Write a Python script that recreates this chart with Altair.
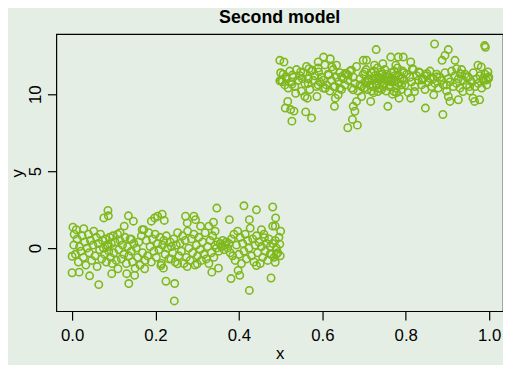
import altair as alt
import pandas as pd

# ---- left cluster (x < 0.5) ----
left_x = [0.002, 0.0, 0.0, 0.01, 0.005, 0.017, 0.028, 0.042, 0.064, 0.076, 0.086, 0.087, 0.095, 0.11,
          0.135, 0.136, 0.125, 0.115, 0.147, 0.131, 0.15, 0.142, 0.168, 0.174, 0.19, 0.198, 0.205, 0.216,
          0.221, 0.213, 0.219, 0.225, 0.246, 0.245, 0.237, 0.253, 0.272, 0.292, 0.296, 0.276, 0.276, 0.3,
          0.308, 0.328, 0.335, 0.339, 0.347, 0.351, 0.343, 0.377, 0.381, 0.398, 0.402, 0.412, 0.425, 0.425,
          0.442, 0.454, 0.442, 0.461, 0.477, 0.481, 0.488, 0.487, 0.481, 0.5, 0.498, 0.487, 0.49, 0.475,
          0.004, 0.008, 0.012, 0.015, 0.018, 0.021, 0.024, 0.027, 0.03, 0.033, 0.036, 0.039, 0.041, 0.044,
          0.047, 0.05, 0.052, 0.055, 0.058, 0.06, 0.063, 0.066, 0.068, 0.071, 0.073, 0.075, 0.078, 0.08,
          0.082, 0.084, 0.086, 0.088, 0.09, 0.092, 0.094, 0.096, 0.098, 0.1, 0.103, 0.106, 0.109, 0.112,
          0.115, 0.118, 0.121, 0.124, 0.127, 0.13, 0.133, 0.136, 0.139, 0.142, 0.145, 0.148, 0.151, 0.154,
          0.157, 0.16, 0.163, 0.166, 0.169, 0.172, 0.175, 0.178, 0.181, 0.184, 0.187, 0.19, 0.193, 0.196,
          0.199, 0.202, 0.205, 0.208, 0.211, 0.214, 0.217, 0.22, 0.223, 0.226, 0.229, 0.232, 0.235, 0.238,
          0.241, 0.244, 0.247, 0.25, 0.253, 0.256, 0.259, 0.262, 0.265, 0.268, 0.271, 0.274, 0.277, 0.28,
          0.283, 0.286, 0.289, 0.292, 0.295, 0.298, 0.301, 0.304, 0.307, 0.31, 0.313, 0.316, 0.319, 0.322,
          0.325, 0.328, 0.331, 0.334, 0.337, 0.34, 0.343, 0.346, 0.349, 0.352, 0.355, 0.358, 0.361, 0.364,
          0.367, 0.37, 0.373, 0.376, 0.379, 0.382, 0.385, 0.388, 0.391, 0.394, 0.397, 0.4, 0.403, 0.406,
          0.409, 0.412, 0.415, 0.418, 0.421, 0.424, 0.427, 0.43, 0.433, 0.436, 0.439, 0.442, 0.445, 0.448,
          0.451, 0.454, 0.457, 0.46, 0.463, 0.466, 0.469, 0.472, 0.475, 0.478, 0.481, 0.484, 0.487, 0.49,
          0.493, 0.496, 0.499]
left_y = [1.36, -0.53, -1.6, 1.2, 0.9, -1.56, 1.26, -1.8, -2.37, 1.96, 2.45, 2.1, -1.66, -1.34,
          2.1, -2.3, 1.43, 1.0, 1.75, -1.66, -1.77, 0.58, 1.2, -1.34, 1.75, 1.96, 2.07, 2.2,
          1.8, -1.13, -1.3, -2.15, -2.3, -3.43, -0.7, -1.02, 2.07, 2.07, 1.85, 1.64, -1.2, -1.02,
          1.43, 1.43, -1.56, 1.68, 2.6, -1.3, 1.1, 1.85, -1.98, -1.45, -1.77, 2.75, 1.85, -2.75,
          2.49, 1.2, -1.13, 0.68, -1.94, 2.67, 1.96, 1.43, 1.43, 1.1, 0.26, -0.92, -0.38, -0.38,
          0.2, -0.4, 0.6, -0.9, 0.1, -0.2, 0.8, -0.6, 0.4, -1.1, 0.0, 0.9, -0.3, 0.5,
          -0.8, 0.2, 1.1, -0.5, 0.7, -1.2, 0.3, -0.1, 0.9, -0.7, 0.5, 0.0, -0.4, 0.6,
          -0.9, 0.2, 0.1, -0.2, 0.7, -0.6, 0.3, -1.0, 0.8, -0.3, 0.4, -0.8, 0.9, -0.1,
          0.5, -0.7, 0.2, -0.4, 0.7, -1.0, 0.1, -0.5, 0.6, -0.2, -0.9, 0.3, -1.3, 0.0,
          -0.6, 0.4, -1.1, 0.8, -0.3, 1.2, -0.8, 0.5, -0.5, 1.0, 0.1, -0.9, 0.6, -0.2,
          0.9, -0.6, 0.3, -0.1, 0.7, -1.0, 0.2, 0.5, -0.4, 0.8, 0.0, -0.7, 0.4, 0.1,
          -0.3, 0.6, -0.9, 0.2, 1.0, -0.5, 0.3, -0.2, 0.8, -1.0, 0.5, -0.6, 1.1, 0.0,
          -0.8, 0.6, -0.3, 0.9, -1.1, 0.2, -0.5, 0.7, -0.1, -0.8, 0.4, -0.4, 1.0, -0.7,
          0.1, -1.0, 0.5, -0.3, 0.8, -0.6, 0.2, 0.0, 0.4, -0.2, 0.3, 0.1, 0.5, -0.1,
          0.2, 0.4, 0.0, 0.3, -0.3, 0.6, -0.5, 0.9, -0.8, 0.2, 1.1, -0.4, 0.7, -1.0,
          0.3, -0.2, 0.9, -0.7, 0.5, 0.0, 1.3, -0.5, 0.6, -0.9, 0.2, 0.8, -0.3, 0.4,
          -1.0, 0.1, -0.6, 0.9, -0.2, 0.3, -0.8, 0.6, 0.1, -0.4, 0.3, -0.6, 0.5, 0.0,
          -0.3, 0.7, -0.5]

# ---- right cluster (x >= 0.5) ----
right_x = [0.498, 0.508, 0.5, 0.498, 0.504, 0.512, 0.517, 0.511, 0.524, 0.532, 0.527, 0.536, 0.528, 0.527,
           0.548, 0.552, 0.558, 0.564, 0.56, 0.574, 0.568, 0.566, 0.576, 0.59, 0.603, 0.591, 0.587, 0.59,
           0.603, 0.607, 0.619, 0.623, 0.634, 0.615, 0.627, 0.631, 0.629, 0.642, 0.638, 0.646, 0.654, 0.662,
           0.661, 0.67, 0.674, 0.674, 0.672, 0.684, 0.678, 0.682, 0.69, 0.698, 0.706, 0.702, 0.694, 0.709,
           0.716, 0.729, 0.725, 0.721, 0.733, 0.741, 0.745, 0.757, 0.764, 0.764, 0.772, 0.782, 0.794, 0.776,
           0.784, 0.792, 0.812, 0.812, 0.816, 0.821, 0.831, 0.839, 0.847, 0.851, 0.859, 0.867, 0.869, 0.875,
           0.887, 0.889, 0.894, 0.902, 0.898, 0.902, 0.906, 0.918, 0.922, 0.926, 0.93, 0.937, 0.945, 0.953,
           0.961, 0.965, 0.973, 0.981, 0.977, 0.989, 0.991, 0.985, 0.993, 0.997, 0.999,
           0.502, 0.506, 0.51, 0.514, 0.518, 0.522, 0.526, 0.53, 0.534, 0.538, 0.542, 0.546, 0.55, 0.554,
           0.558, 0.562, 0.566, 0.57, 0.574, 0.578, 0.582, 0.586, 0.59, 0.594, 0.598, 0.602, 0.606, 0.61,
           0.614, 0.618, 0.622, 0.626, 0.63, 0.634, 0.638, 0.642, 0.646, 0.65, 0.654, 0.658, 0.662, 0.666,
           0.67, 0.674, 0.678, 0.682, 0.686, 0.69, 0.694, 0.698, 0.702, 0.705, 0.708, 0.711, 0.714, 0.717,
           0.72, 0.723, 0.726, 0.729, 0.732, 0.735, 0.738, 0.741, 0.744, 0.747, 0.75, 0.753, 0.756, 0.759,
           0.762, 0.765, 0.768, 0.771, 0.774, 0.777, 0.78, 0.783, 0.786, 0.789, 0.792, 0.795, 0.798, 0.802,
           0.806, 0.81, 0.814, 0.818, 0.822, 0.826, 0.83, 0.834, 0.838, 0.842, 0.846, 0.85, 0.854, 0.858,
           0.862, 0.866, 0.87, 0.874, 0.878, 0.882, 0.886, 0.89, 0.894, 0.898, 0.902, 0.906, 0.91, 0.914,
           0.918, 0.922, 0.926, 0.93, 0.934, 0.938, 0.942, 0.946, 0.95, 0.954, 0.958, 0.962, 0.966, 0.97,
           0.974, 0.978, 0.982, 0.986, 0.99, 0.994, 0.998,
           0.7, 0.712, 0.718, 0.724, 0.73, 0.736, 0.742, 0.748, 0.754, 0.76, 0.766, 0.772, 0.778, 0.784,
           0.79, 0.796, 0.728, 0.746, 0.764, 0.776]
right_y = [12.2, 12.09, 11.39, 10.87, 10.81, 11.13, 9.53, 9.1, 9.0, 8.9, 8.25, 10.06, 11.24, 10.64,
           11.45, 11.02, 9.85, 9.74, 8.85, 8.46, 11.66, 10.7, 11.56, 12.09, 12.41, 11.45, 9.85, 10.6,
           10.92, 10.38, 12.3, 11.77, 11.88, 11.24, 10.49, 9.74, 9.21, 10.38, 9.96, 11.13, 11.34, 11.24,
           7.82, 11.56, 10.28, 9.21, 8.36, 7.99, 8.89, 9.53, 10.6, 12.2, 12.2, 11.45, 9.85, 10.81,
           9.53, 12.9, 11.88, 10.49, 10.17, 11.45, 11.98, 9.21, 12.41, 10.81, 10.17, 12.41, 12.41, 11.88,
           9.74, 11.02, 12.09, 9.74, 11.66, 10.17, 11.45, 10.92, 9.1, 11.34, 11.02, 9.96, 13.26, 11.13,
           12.2, 8.68, 12.52, 12.9, 10.6, 9.85, 9.53, 12.2, 11.66, 9.64, 11.34, 10.17, 11.13, 10.49,
           9.74, 9.53, 11.88, 11.77, 9.64, 13.16, 13.05, 11.02, 10.92, 11.45, 11.13,
           10.9, 11.3, 10.6, 11.0, 10.4, 11.5, 10.8, 11.1, 10.5, 11.6, 10.9, 11.2, 10.2, 11.4,
           10.7, 11.8, 11.0, 10.3, 11.5, 10.9, 11.2, 10.5, 11.7, 10.8, 11.1, 10.4, 11.9, 10.6,
           11.3, 10.2, 10.9, 11.6, 10.5, 11.1, 10.8, 11.4, 10.3, 11.0, 10.6, 11.3, 10.9, 11.5,
           10.4, 11.1, 10.7, 11.8, 10.2, 11.0, 10.5, 11.3, 10.8, 11.6, 10.3, 11.0, 10.6, 11.4,
           10.9, 10.1, 11.2, 10.7, 11.7, 10.4, 11.0, 10.8, 11.3, 10.5, 11.6, 10.2, 10.9, 11.1,
           10.6, 11.4, 10.0, 10.8, 11.2, 10.4, 11.7, 10.7, 11.0, 10.3, 11.5, 10.9, 10.6, 11.3,
           10.1, 11.1, 10.8, 11.6, 10.5, 11.2, 10.9, 11.4, 10.6, 11.0, 10.3, 11.2, 10.8, 11.5,
           10.5, 11.0, 10.7, 11.3, 10.4, 11.1, 10.9, 10.6, 11.4, 10.2, 11.0, 10.8, 11.5, 10.5,
           11.2, 10.7, 11.0, 10.4, 11.6, 10.9, 11.3, 10.6, 11.1, 10.2, 10.8, 11.4, 10.5, 11.0,
           10.7, 11.2, 10.4, 10.9, 11.3, 10.6, 11.0,
           10.4, 10.9, 10.2, 11.5, 10.6, 11.1, 10.3, 11.0, 11.3, 10.5, 10.8, 11.5, 10.1, 11.2,
           10.6, 11.4, 11.0, 10.7, 11.0, 10.9]

x_ticks = [0.0, 0.2, 0.4, 0.6, 0.8, 1.0]
y_ticks = [0, 5, 10]

df = pd.DataFrame({"x": left_x + right_x, "y": left_y + right_y})

BG = "#e5eee5"
GREEN = "#7fb81c"
FONT = "Liberation Sans"

chart = alt.Chart(df).mark_point(
    shape="circle", filled=False, size=56, strokeWidth=1.6, color=GREEN, opacity=1
).encode(
    x=alt.X("x:Q",
            scale=alt.Scale(domain=[-0.0378, 1.0331], nice=False, zero=False),
            axis=alt.Axis(values=x_ticks, format=".1f", tickSize=9, labelPadding=8,
                          domain=False, grid=False, title="x", titlePadding=2)),
    y=alt.Y("y:Q",
            scale=alt.Scale(domain=[-4.1, 13.9], nice=False, zero=False),
            axis=alt.Axis(values=y_ticks, tickSize=9, labelPadding=3, labelAngle=270,
                          labelAlign="center", labelBaseline="bottom",
                          domain=False, grid=False, title="y", titlePadding=0)),
).properties(
    width=453, height=281,
    title=alt.TitleParams("Second model", fontSize=18, fontWeight="bold", font=FONT,
                          anchor="middle", offset=7, color="black"),
    autosize=alt.AutoSizeParams(type="none"),
    padding={"left": 49, "top": 24, "right": 0, "bottom": 52},
    background=BG,
).configure_view(
    stroke="black", strokeWidth=1.2
).configure_axis(
    labelFont=FONT, titleFont=FONT, labelFontSize=17, titleFontSize=17,
    titleFontWeight="normal", labelColor="black", titleColor="black",
    tickColor="black", tickWidth=1.2
)

chart.save("out.html", embed_options={"renderer": "svg", "actions": False})
